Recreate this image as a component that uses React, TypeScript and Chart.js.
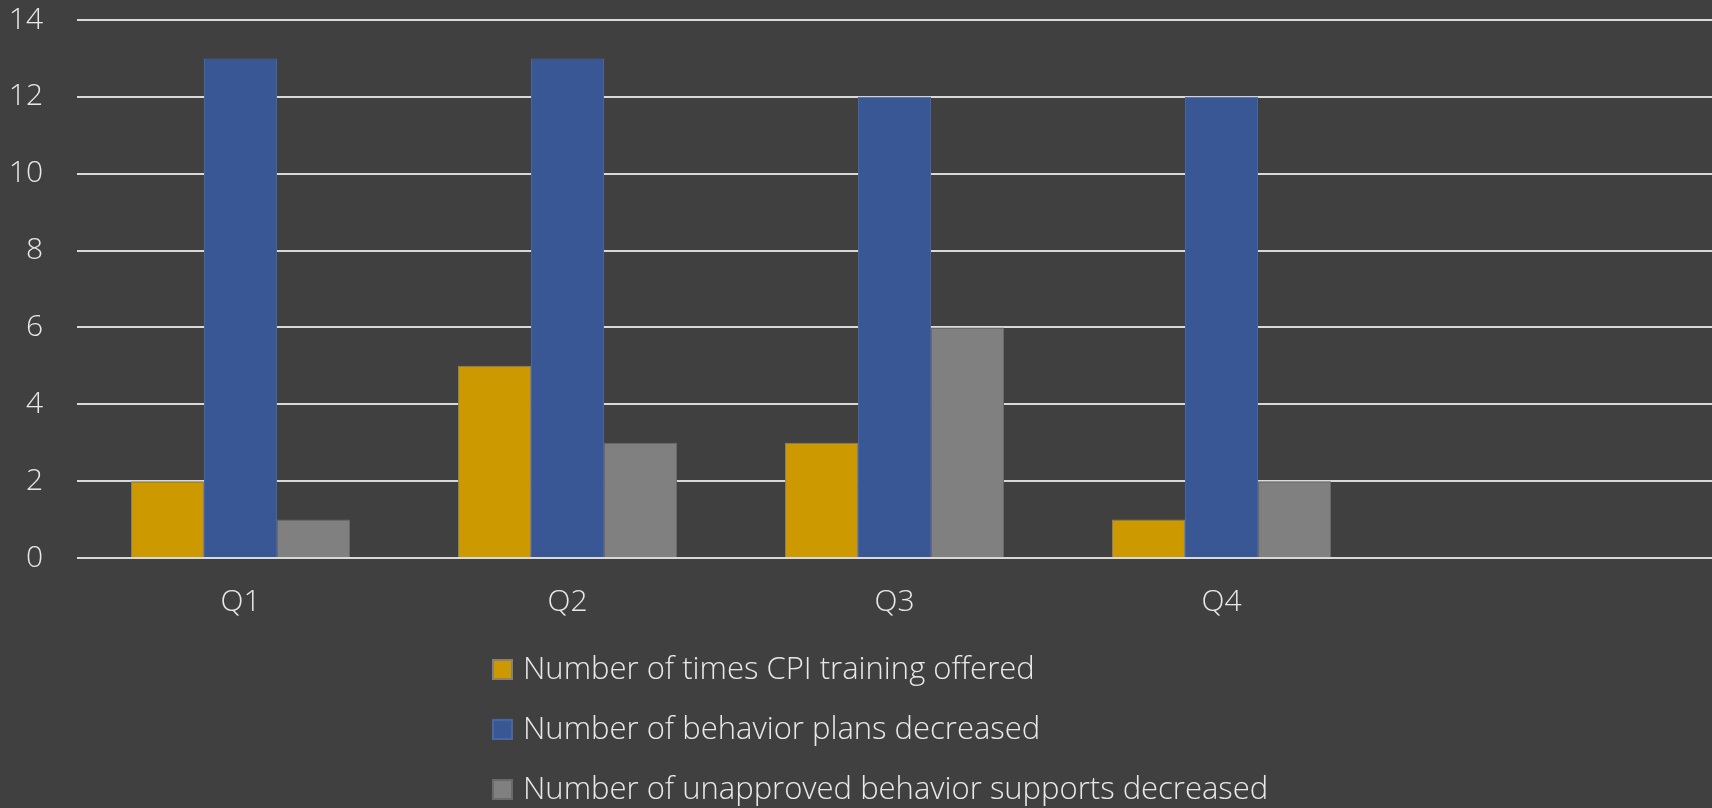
import React, { useEffect, useRef } from "react";
import { Chart, registerables } from "chart.js";

Chart.register(...registerables);

const categories = ["Q1", "Q2", "Q3", "Q4", ""];
const cpiTraining = [2, 5, 3, 1, null];
const behaviorPlans = [13, 13, 12, 12, null];
const unapprovedSupports = [1, 3, 6, 2, null];
const seriesNames = [
  "Number of times CPI training offered",
  "Number of behavior plans decreased",
  "Number of unapproved behavior supports decreased",
];
const seriesColors = ["#CC9900", "#385794", "#808080"];
const seriesBorders = ["#8a8070", "#4a66a0", "#6a6a6a"];

const FONT = "'Open Sans', 'Segoe UI', sans-serif";
const TEXT = "#e8e8e8";

const legendPlugin = {
  id: "vertLegend",
  afterDraw(chart: any) {
    const ctx = chart.ctx;
    ctx.save();
    ctx.font = `300 31px ${FONT}`;
    ctx.textBaseline = "middle";
    ctx.textAlign = "left";
    const x0 = 492;
    const rows = [669.5, 729.5, 789.5];
    const box = 21;
    chart.data.datasets.forEach((ds: any, i: number) => {
      const y = rows[i];
      ctx.fillStyle = ds.backgroundColor;
      ctx.fillRect(x0, y - box / 2, box, box);
      ctx.strokeStyle = ds.borderColor;
      ctx.lineWidth = 2;
      ctx.strokeRect(x0 + 1, y - box / 2 + 1, box - 2, box - 2);
      ctx.fillStyle = TEXT;
      ctx.fillText(ds.label, x0 + 31, y + 1);
    });
    ctx.restore();
  },
};

export default function App() {
  const ref = useRef<HTMLCanvasElement>(null);
  useEffect(() => {
    document.body.style.margin = "0";
    document.body.style.background = "#404040";
    const data = [cpiTraining, behaviorPlans, unapprovedSupports];
    const chart = new Chart(ref.current!, {
      type: "bar",
      data: {
        labels: categories,
        datasets: data.map((d, i) => ({
          label: seriesNames[i],
          data: d,
          backgroundColor: seriesColors[i],
          borderColor: seriesBorders[i],
          borderWidth: 1,
          barPercentage: 1,
          categoryPercentage: 0.67,
        })),
      },
      options: {
        animation: false,
        responsive: false,
        maintainAspectRatio: false,
        layout: { padding: { top: 20, left: 0, right: -10, bottom: 170 } },
        plugins: { legend: { display: false }, tooltip: { enabled: false } },
        scales: {
          x: {
            grid: { display: false },
            border: { display: false },
            ticks: { color: TEXT, font: { family: FONT, size: 30, weight: 300 }, padding: 18 },
          },
          y: {
            min: 0,
            max: 14,
            afterFit: (scale: any) => {
              scale.width = 77;
              scale.paddingTop = 0;
              scale.paddingBottom = 0;
            },
            ticks: { stepSize: 2, color: TEXT, font: { family: FONT, size: 30, weight: 300 }, padding: 34 },
            grid: { color: "#d9d9d9", lineWidth: 2, drawTicks: false },
            border: { display: false },
          },
        },
      },
      plugins: [legendPlugin],
    });
    return () => chart.destroy();
  }, []);
  return (
    <div style={{ width: 1712, height: 808, background: "#404040" }}>
      <canvas ref={ref} width={1712} height={808} style={{ display: "block" }} />
    </div>
  );
}
